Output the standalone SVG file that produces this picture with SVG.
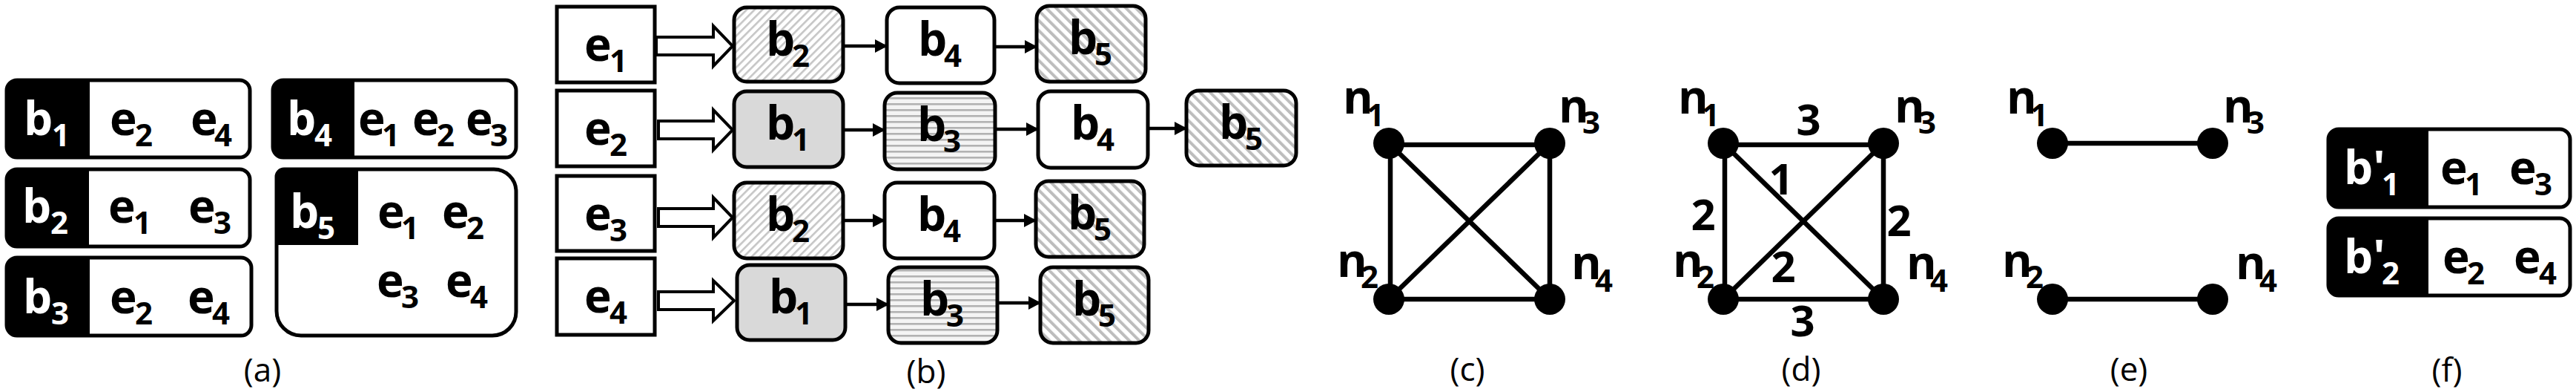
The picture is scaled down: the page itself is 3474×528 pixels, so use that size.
<svg xmlns="http://www.w3.org/2000/svg" width="3474" height="528" viewBox="0 0 3474 528">
<style>
text{font-family:"Open Sans","Liberation Sans",sans-serif;font-weight:700;fill:#000}
.m{font-size:62px}
.s{font-size:42px}
.w{fill:#fff}
.cap{font-weight:400;font-size:44px;text-anchor:middle}
.wt{font-size:58px;text-anchor:middle}
.bx{stroke:#000;stroke-width:5}
.ol{fill:none}
.sq{stroke:#000;stroke-width:5;fill:#fff}
.ln{stroke:#000;stroke-width:4.5;fill:none}
.ed{stroke:#000;stroke-width:6.5;fill:none}
.ha{stroke:#000;stroke-width:4;fill:#fff;stroke-linejoin:miter}
.blk{fill:#000}
.nd{fill:#000}
</style>
<defs>
<pattern id="hf" width="7.5" height="10" patternUnits="userSpaceOnUse" patternTransform="rotate(45)"><rect width="7.5" height="10" fill="#fff"/><rect width="2.6" height="10" fill="#c6c6c6"/></pattern>
<pattern id="hb" width="9.5" height="10" patternUnits="userSpaceOnUse" patternTransform="rotate(-45)"><rect width="9.5" height="10" fill="#fff"/><rect width="4" height="10" fill="#bdbdbd"/></pattern>
<pattern id="hl" width="10" height="8" patternUnits="userSpaceOnUse"><rect width="10" height="8" fill="#f4f4f4"/><rect y="3" width="10" height="2.6" fill="#b2b2b2"/></pattern>
<marker id="ar" markerUnits="userSpaceOnUse" markerWidth="17" markerHeight="18" refX="16" refY="9" orient="auto"><path d="M0,0 L17,9 L0,18 z" fill="#000"/></marker>
</defs>

<!-- Panel (a) -->
<g id="a-b1">
<rect x="9" y="108" width="328" height="104" rx="14" fill="#fff"/>
<path class="blk" d="M23,108 H121 V212 H23 A14,14 0 0 1 9,198 V122 A14,14 0 0 1 23,108 Z"/>
<rect class="bx ol" x="9" y="108" width="328" height="104" rx="14"/>
<text class="m w"><tspan x="32" y="182">b</tspan><tspan class="s w" x="70" y="197">1</tspan></text>
<text class="m"><tspan x="148" y="182">e</tspan><tspan class="s" x="182" y="197">2</tspan><tspan x="257" y="182">e</tspan><tspan class="s" x="289" y="197">4</tspan></text>
</g>
<g id="a-b2">
<rect x="9" y="228" width="328" height="104" rx="14" fill="#fff"/>
<path class="blk" d="M23,228 H120 V332 H23 A14,14 0 0 1 9,318 V242 A14,14 0 0 1 23,228 Z"/>
<rect class="bx ol" x="9" y="228" width="328" height="104" rx="14"/>
<text class="m w"><tspan x="30" y="300">b</tspan><tspan class="s w" x="68" y="315">2</tspan></text>
<text class="m"><tspan x="146" y="300">e</tspan><tspan class="s" x="180" y="315">1</tspan><tspan x="254" y="300">e</tspan><tspan class="s" x="288" y="315">3</tspan></text>
</g>
<g id="a-b3">
<rect x="9" y="347" width="330" height="105" rx="14" fill="#fff"/>
<path class="blk" d="M23,347 H121 V452 H23 A14,14 0 0 1 9,438 V361 A14,14 0 0 1 23,347 Z"/>
<rect class="bx ol" x="9" y="347" width="330" height="105" rx="14"/>
<text class="m w"><tspan x="31" y="422">b</tspan><tspan class="s w" x="69" y="437">3</tspan></text>
<text class="m"><tspan x="148" y="422">e</tspan><tspan class="s" x="182" y="437">2</tspan><tspan x="253" y="422">e</tspan><tspan class="s" x="286" y="437">4</tspan></text>
</g>
<g id="a-b4">
<rect x="368" y="108" width="328" height="104" rx="14" fill="#fff"/>
<path class="blk" d="M382,108 H478 V212 H382 A14,14 0 0 1 368,198 V122 A14,14 0 0 1 382,108 Z"/>
<rect class="bx ol" x="368" y="108" width="328" height="104" rx="14"/>
<text class="m w"><tspan x="387" y="182">b</tspan><tspan class="s w" x="424" y="197">4</tspan></text>
<text class="m"><tspan x="483" y="182">e</tspan><tspan class="s" x="515" y="197">1</tspan><tspan x="556" y="182">e</tspan><tspan class="s" x="589" y="197">2</tspan><tspan x="628" y="182">e</tspan><tspan class="s" x="661" y="197">3</tspan></text>
</g>
<g id="a-b5">
<path d="M383,228 H666 A30,30 0 0 1 696,258 V420 A32,32 0 0 1 664,452 H406 A33,33 0 0 1 373,419 V238 A10,10 0 0 1 383,228 Z" fill="#fff"/>
<path class="blk" d="M383,228 H483 V330 H373 V238 A10,10 0 0 1 383,228 Z"/>
<path class="bx ol" d="M383,228 H666 A30,30 0 0 1 696,258 V420 A32,32 0 0 1 664,452 H406 A33,33 0 0 1 373,419 V238 A10,10 0 0 1 383,228 Z"/>
<text class="m w"><tspan x="391" y="307">b</tspan><tspan class="s w" x="428" y="322">5</tspan></text>
<text class="m"><tspan x="509" y="307">e</tspan><tspan class="s" x="541" y="322">1</tspan><tspan x="596" y="307">e</tspan><tspan class="s" x="629" y="322">2</tspan><tspan x="508" y="400">e</tspan><tspan class="s" x="541" y="415">3</tspan><tspan x="601" y="400">e</tspan><tspan class="s" x="634" y="415">4</tspan></text>
</g>
<text class="cap" x="354" y="514">(a)</text>

<!-- connectors -->
<g id="connectors">
<polygon class="ha" points="885,50 962,50 962,35 988,62 962,89 962,74 885,74"/>
<polygon class="ha" points="888,163 962,163 962,148 988,175 962,202 962,187 888,187"/>
<polygon class="ha" points="888,281 962,281 962,266 988,293 962,320 962,305 888,305"/>
<polygon class="ha" points="888,393 962,393 962,378 990,405 962,432 962,417 888,417"/>
<line class="ln" x1="1137" y1="62" x2="1196" y2="62" marker-end="url(#ar)"/>
<line class="ln" x1="1341" y1="63" x2="1398" y2="63" marker-end="url(#ar)"/>
<line class="ln" x1="1137" y1="175" x2="1193" y2="175" marker-end="url(#ar)"/>
<line class="ln" x1="1342" y1="174" x2="1400" y2="174" marker-end="url(#ar)"/>
<line class="ln" x1="1548" y1="173" x2="1600" y2="173" marker-end="url(#ar)"/>
<line class="ln" x1="1137" y1="297" x2="1193" y2="297" marker-end="url(#ar)"/>
<line class="ln" x1="1341" y1="297" x2="1397" y2="297" marker-end="url(#ar)"/>
<line class="ln" x1="1140" y1="410" x2="1198" y2="410" marker-end="url(#ar)"/>
<line class="ln" x1="1345" y1="408" x2="1403" y2="408" marker-end="url(#ar)"/>
<line class="ed" x1="1873" y1="195" x2="2090" y2="195"/>
<line class="ed" x1="1873" y1="403" x2="2090" y2="403"/>
<line class="ed" x1="1875" y1="193" x2="1875" y2="403"/>
<line class="ed" x1="2090" y1="193" x2="2090" y2="403"/>
<line class="ed" x1="1873" y1="193" x2="2090" y2="403"/>
<line class="ed" x1="2090" y1="193" x2="1873" y2="403"/>
<line class="ed" x1="2324" y1="195" x2="2540" y2="195"/>
<line class="ed" x1="2324" y1="403" x2="2540" y2="403"/>
<line class="ed" x1="2326" y1="193" x2="2326" y2="403"/>
<line class="ed" x1="2540" y1="193" x2="2540" y2="403"/>
<line class="ed" x1="2324" y1="193" x2="2540" y2="403"/>
<line class="ed" x1="2540" y1="193" x2="2324" y2="403"/>
<line class="ed" x1="2768" y1="193" x2="2984" y2="193"/>
<line class="ed" x1="2768" y1="403" x2="2984" y2="403"/>
</g>

<!-- Panel (b) nodes -->
<g id="b-e1"><rect class="sq" x="751" y="9" width="132" height="102"/><text class="m"><tspan x="788" y="82">e</tspan><tspan class="s" x="822" y="97">1</tspan></text></g>
<g id="b-e2"><rect class="sq" x="751" y="122" width="132" height="102"/><text class="m"><tspan x="788" y="195">e</tspan><tspan class="s" x="822" y="210">2</tspan></text></g>
<g id="b-e3"><rect class="sq" x="751" y="237" width="132" height="101"/><text class="m"><tspan x="788" y="310">e</tspan><tspan class="s" x="822" y="325">3</tspan></text></g>
<g id="b-e4"><rect class="sq" x="751" y="348" width="132" height="103"/><text class="m"><tspan x="788" y="421">e</tspan><tspan class="s" x="822" y="436">4</tspan></text></g>

<g id="b-r1-b2"><rect class="bx" x="990" y="10" width="147" height="100" rx="17" fill="url(#hf)"/><text class="m"><tspan x="1033" y="75">b</tspan><tspan class="s" x="1068" y="90">2</tspan></text></g>
<g id="b-r2-b1"><rect class="bx" x="990" y="123" width="147" height="102" rx="17" fill="#d9d9d9"/><text class="m"><tspan x="1033" y="188">b</tspan><tspan class="s" x="1068" y="203">1</tspan></text></g>
<g id="b-r3-b2"><rect class="bx" x="990" y="246" width="147" height="102" rx="17" fill="url(#hf)"/><text class="m"><tspan x="1033" y="311">b</tspan><tspan class="s" x="1068" y="326">2</tspan></text></g>
<g id="b-r4-b1"><rect class="bx" x="994" y="357" width="146" height="101" rx="17" fill="#d9d9d9"/><text class="m"><tspan x="1037" y="422">b</tspan><tspan class="s" x="1072" y="437">1</tspan></text></g>

<g id="b-r1-b4"><rect class="bx" x="1196" y="10" width="145" height="102" rx="17" fill="#fff"/><text class="m"><tspan x="1238" y="75">b</tspan><tspan class="s" x="1273" y="90">4</tspan></text></g>
<g id="b-r2-b3"><rect class="bx" x="1193" y="125" width="149" height="103" rx="17" fill="url(#hl)"/><text class="m"><tspan x="1237" y="190">b</tspan><tspan class="s" x="1272" y="205">3</tspan></text></g>
<g id="b-r3-b4"><rect class="bx" x="1193" y="246" width="148" height="102" rx="17" fill="#fff"/><text class="m"><tspan x="1237" y="311">b</tspan><tspan class="s" x="1272" y="326">4</tspan></text></g>
<g id="b-r4-b3"><rect class="bx" x="1198" y="360" width="147" height="102" rx="17" fill="url(#hl)"/><text class="m"><tspan x="1241" y="425">b</tspan><tspan class="s" x="1276" y="440">3</tspan></text></g>

<g id="b-r1-b5"><rect class="bx" x="1398" y="8" width="147" height="102" rx="17" fill="url(#hb)"/><text class="m"><tspan x="1441" y="73">b</tspan><tspan class="s" x="1476" y="88">5</tspan></text></g>
<g id="b-r2-b4"><rect class="bx" x="1400" y="123" width="148" height="103" rx="17" fill="#fff"/><text class="m"><tspan x="1444" y="188">b</tspan><tspan class="s" x="1479" y="203">4</tspan></text></g>
<g id="b-r3-b5"><rect class="bx" x="1397" y="244" width="146" height="102" rx="17" fill="url(#hb)"/><text class="m"><tspan x="1440" y="309">b</tspan><tspan class="s" x="1475" y="324">5</tspan></text></g>
<g id="b-r4-b5"><rect class="bx" x="1403" y="360" width="146" height="102" rx="17" fill="url(#hb)"/><text class="m"><tspan x="1446" y="425">b</tspan><tspan class="s" x="1481" y="440">5</tspan></text></g>
<g id="b-r2-b5b"><rect class="bx" x="1600" y="122" width="148" height="101" rx="17" fill="url(#hb)"/><text class="m"><tspan x="1644" y="187">b</tspan><tspan class="s" x="1679" y="202">5</tspan></text></g>
<text class="cap" x="1249" y="516">(b)</text>

<!-- Panel (c) -->
<g id="c-n1"><circle class="nd" cx="1873" cy="193" r="21"/><text class="m"><tspan x="1811" y="153">n</tspan><tspan class="s" x="1843" y="170">1</tspan></text></g>
<g id="c-n3"><circle class="nd" cx="2090" cy="193" r="21"/><text class="m"><tspan x="2102" y="165">n</tspan><tspan class="s" x="2134" y="180">3</tspan></text></g>
<g id="c-n2"><circle class="nd" cx="1873" cy="403" r="21"/><text class="m"><tspan x="1803" y="373">n</tspan><tspan class="s" x="1835" y="388">2</tspan></text></g>
<g id="c-n4"><circle class="nd" cx="2090" cy="403" r="21"/><text class="m"><tspan x="2119" y="376">n</tspan><tspan class="s" x="2151" y="393">4</tspan></text></g>
<text class="cap" x="1979" y="513">(c)</text>

<!-- Panel (d) -->
<g id="d-n1"><circle class="nd" cx="2324" cy="193" r="21"/><text class="m"><tspan x="2263" y="153">n</tspan><tspan class="s" x="2295" y="170">1</tspan></text></g>
<g id="d-n3"><circle class="nd" cx="2540" cy="193" r="21"/><text class="m"><tspan x="2555" y="165">n</tspan><tspan class="s" x="2587" y="180">3</tspan></text></g>
<g id="d-n2"><circle class="nd" cx="2324" cy="403" r="21"/><text class="m"><tspan x="2256" y="373">n</tspan><tspan class="s" x="2288" y="388">2</tspan></text></g>
<g id="d-n4"><circle class="nd" cx="2540" cy="403" r="21"/><text class="m"><tspan x="2571" y="376">n</tspan><tspan class="s" x="2603" y="393">4</tspan></text></g>
<g id="d-weights">
<text class="wt" x="2439" y="182">3</text>
<text class="wt" x="2402" y="262">1</text>
<text class="wt" x="2297" y="310">2</text>
<text class="wt" x="2405" y="380">2</text>
<text class="wt" x="2431" y="453">3</text>
<text class="wt" x="2561" y="318">2</text>
</g>
<text class="cap" x="2429" y="513">(d)</text>

<!-- Panel (e) -->
<g id="e-n1"><circle class="nd" cx="2768" cy="193" r="21"/><text class="m"><tspan x="2706" y="153">n</tspan><tspan class="s" x="2738" y="170">1</tspan></text></g>
<g id="e-n3"><circle class="nd" cx="2984" cy="193" r="21"/><text class="m"><tspan x="2998" y="165">n</tspan><tspan class="s" x="3030" y="180">3</tspan></text></g>
<g id="e-n2"><circle class="nd" cx="2768" cy="403" r="21"/><text class="m"><tspan x="2700" y="373">n</tspan><tspan class="s" x="2732" y="388">2</tspan></text></g>
<g id="e-n4"><circle class="nd" cx="2984" cy="403" r="21"/><text class="m"><tspan x="3015" y="376">n</tspan><tspan class="s" x="3047" y="393">4</tspan></text></g>
<text class="cap" x="2871" y="513">(e)</text>

<!-- Panel (f) -->
<g id="f-b1">
<rect x="3140" y="174" width="326" height="105" rx="14" fill="#fff"/>
<path class="blk" d="M3154,174 H3275 V279 H3154 A14,14 0 0 1 3140,265 V188 A14,14 0 0 1 3154,174 Z"/>
<rect class="bx ol" x="3140" y="174" width="326" height="105" rx="14"/>
<text class="m w"><tspan x="3161" y="248">b'</tspan><tspan class="s w" x="3212" y="263">1</tspan></text>
<text class="m"><tspan x="3291" y="248">e</tspan><tspan class="s" x="3324" y="263">1</tspan><tspan x="3384" y="248">e</tspan><tspan class="s" x="3418" y="263">3</tspan></text>
</g>
<g id="f-b2">
<rect x="3140" y="294" width="326" height="104" rx="14" fill="#fff"/>
<path class="blk" d="M3154,294 H3275 V398 H3154 A14,14 0 0 1 3140,384 V308 A14,14 0 0 1 3154,294 Z"/>
<rect class="bx ol" x="3140" y="294" width="326" height="104" rx="14"/>
<text class="m w"><tspan x="3161" y="368">b'</tspan><tspan class="s w" x="3212" y="383">2</tspan></text>
<text class="m"><tspan x="3294" y="368">e</tspan><tspan class="s" x="3327" y="383">2</tspan><tspan x="3390" y="368">e</tspan><tspan class="s" x="3424" y="383">4</tspan></text>
</g>
<text class="cap" x="3300" y="514">(f)</text>
</svg>
